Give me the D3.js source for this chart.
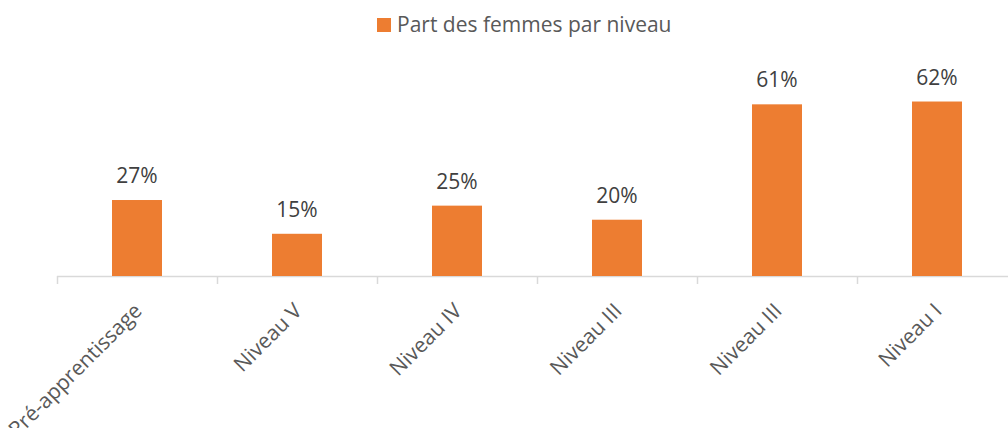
<!DOCTYPE html>
<html><head><meta charset="utf-8">
<script src="https://cdn.jsdelivr.net/npm/d3@7"></script>
<style>body{margin:0;background:#fff}svg{display:block}</style>
</head><body>
<svg id="c" width="1008" height="428"></svg>
<script>
const categories = ["Pré-apprentissage","Niveau V","Niveau IV","Niveau III","Niveau III","Niveau I"];
const values = [27, 15, 25, 20, 61, 62];
const seriesName = "Part des femmes par niveau";
const color = "#ED7D31";
const font = "'Open Sans', sans-serif";

const svg = d3.select("#c");
const idx = categories.map((d,i)=>i);
const x = d3.scaleBand().domain(idx).range([57,1017]).paddingInner(0.6875).paddingOuter(0.34375);
const y = d3.scaleLinear().domain([0,70]).range([276,79]);

// axis line + ticks
const step = x.step();
const boundaries = d3.range(0, categories.length+1).map(i => 57 + i*step);
svg.append("line").attr("x1",57).attr("x2",1017).attr("y1",y(0)+0.5).attr("y2",y(0)+0.5)
  .attr("stroke","#d9d9d9").attr("stroke-width",1.5);
svg.selectAll(".tick").data(boundaries).join("line")
  .attr("x1",d=>d+0.5).attr("x2",d=>d+0.5).attr("y1",y(0)).attr("y2",y(0)+8)
  .attr("stroke","#d9d9d9").attr("stroke-width",1.5);

// bars
svg.selectAll(".bar").data(values).join("rect")
  .attr("x",(d,i)=>x(i)).attr("width",x.bandwidth())
  .attr("y",d=>y(d)).attr("height",d=>y(0)-y(d)).attr("fill",color);

// data labels
svg.selectAll(".lbl").data(values).join("text")
  .attr("x",(d,i)=>x(i)+x.bandwidth()/2).attr("y",d=>y(d)-17)
  .attr("text-anchor","middle").attr("font-family",font).attr("font-size",21)
  .attr("fill","#404040").text(d=>d+"%");

// category labels
svg.selectAll(".cat").data(categories).join("text")
  .attr("transform",(d,i)=>`translate(${x(i)+x.bandwidth()/2+1},${y(0)+31}) rotate(-45)`)
  .attr("text-anchor","end").attr("dy","0.35em")
  .attr("font-family",font).attr("font-size",21).attr("fill","#595959").text(d=>d);

// legend
const lg = svg.append("g");
lg.append("rect").attr("x",377).attr("y",18).attr("width",14).attr("height",14).attr("fill",color);
lg.append("text").attr("x",397).attr("y",32).attr("font-family",font).attr("font-size",21)
  .attr("fill","#595959").text(seriesName);
</script>
</body></html>
